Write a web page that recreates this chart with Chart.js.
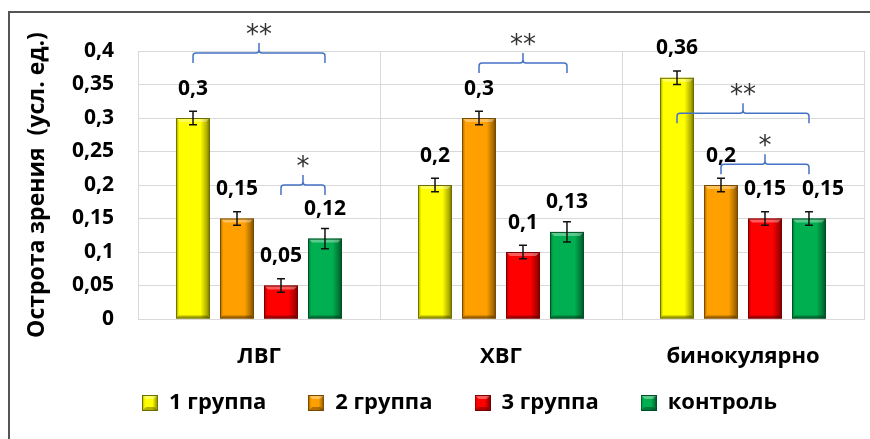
<!DOCTYPE html>
<html>
<head>
<meta charset="utf-8">
<script src="https://cdn.jsdelivr.net/npm/chart.js@4/dist/chart.umd.min.js"></script>
<style>
  html, body { margin: 0; padding: 0; background: #fff; overflow: hidden; }
  #frame { position: absolute; left: 8px; top: 11px; width: 900px; height: 500px; border: 2px solid #555; }
  #wrap { position: absolute; left: 0; top: 0; width: 870px; height: 439px; }
</style>
</head>
<body>
<div id="frame"></div>
<div id="wrap"><canvas id="chart" width="870" height="439"></canvas></div>
<script>
// Visual acuity by group, with standard errors
const categories = ['ЛВГ', 'ХВГ', 'бинокулярно'];
const seriesNames = ['1 группа', '2 группа', '3 группа', 'контроль'];

const group1 = [0.30, 0.20, 0.36];
const group2 = [0.15, 0.30, 0.20];
const group3 = [0.05, 0.10, 0.15];
const control = [0.12, 0.13, 0.15];

const group1Err = [0.01, 0.01, 0.01];
const group2Err = [0.01, 0.01, 0.01];
const group3Err = [0.01, 0.01, 0.01];
const controlErr = [0.015, 0.015, 0.01];

const yAxisTitle = 'Острота зрения  (усл. ед.)';

// Significance brackets: category, first and last series joined, level (axis units), mark
const bracketCategory = [0, 0, 1, 2, 2];
const bracketFrom = [0, 2, 1, 0, 1];
const bracketTo = [3, 3, 3, 3, 3];
const bracketLevel = [0.397, 0.200, 0.382, 0.307, 0.231];
const bracketMark = ['**', '*', '**', '**', '*'];

const seriesValues = [group1, group2, group3, control];
const seriesErrors = [group1Err, group2Err, group3Err, controlErr];
const fills = ['#FFFF00', '#FFA000', '#FF0000', '#00B050'];
const edges = ['#6E6E00', '#7A4A00', '#780000', '#004F24'];

// sideways nudge for a label that would otherwise touch its neighbour
const labelNudge = { '3-2': 14 };

const FONT = "'Open Sans', 'Noto Sans', sans-serif";
const fmt = v => String(Math.round(v * 100) / 100).replace('.', ',');

function swatch(fill, edge) {
  const c = document.createElement('canvas');
  c.width = 16; c.height = 16;
  const g = c.getContext('2d');
  g.fillStyle = fill; g.fillRect(0, 0, 16, 16);
  const gr = g.createLinearGradient(0, 0, 16, 0);
  gr.addColorStop(0, 'rgba(0,0,0,0.2)');
  gr.addColorStop(0.2, 'rgba(0,0,0,0)');
  gr.addColorStop(0.65, 'rgba(0,0,0,0)');
  gr.addColorStop(1, 'rgba(0,0,0,0.5)');
  g.fillStyle = gr; g.fillRect(0, 0, 16, 16);
  g.beginPath(); g.moveTo(0, 0); g.lineTo(16, 0); g.lineTo(12, 4); g.lineTo(4, 4); g.closePath();
  g.fillStyle = 'rgba(255,255,255,0.35)'; g.fill();
  g.beginPath(); g.moveTo(0, 16); g.lineTo(16, 16); g.lineTo(12, 12); g.lineTo(4, 12); g.closePath();
  g.fillStyle = 'rgba(0,0,0,0.3)'; g.fill();
  g.strokeStyle = edge; g.lineWidth = 1; g.strokeRect(0.5, 0.5, 15, 15);
  return c;
}
const swatches = fills.map((f, i) => swatch(f, edges[i]));

function drawBracket(ctx, x1, x2, yh) {
  const drop = 10, tick = 10, r = 3, xm = (x1 + x2) / 2;
  ctx.beginPath();
  ctx.moveTo(x1, yh + drop);
  ctx.lineTo(x1, yh + r);
  ctx.quadraticCurveTo(x1, yh, x1 + r, yh);
  ctx.lineTo(xm - r, yh);
  ctx.quadraticCurveTo(xm, yh, xm, yh - r);
  ctx.lineTo(xm, yh - tick);
  ctx.moveTo(xm, yh - r);
  ctx.quadraticCurveTo(xm, yh, xm + r, yh);
  ctx.lineTo(x2 - r, yh);
  ctx.quadraticCurveTo(x2, yh, x2, yh + r);
  ctx.lineTo(x2, yh + drop);
  ctx.stroke();
  return yh - tick;
}

const decorations = {
  id: 'decorations',
  afterLayout(chart) {
    // legend row sits centred under the figure, just below the category names
    const lg = chart.legend;
    lg.left = 55; lg.right = 864;
    lg.top = 350; lg.bottom = 424;
  },
  afterDatasetsDraw(chart) {
    const ctx = chart.ctx;
    const y = chart.scales.y;
    ctx.save();
    // bevelled bar shading
    chart.data.datasets.forEach((ds, di) => {
      chart.getDatasetMeta(di).data.forEach(el => {
        const p = el.getProps(['x', 'y', 'base', 'width'], true);
        const l = p.x - p.width / 2, r = p.x + p.width / 2;
        const t = Math.min(p.y, p.base), b = Math.max(p.y, p.base), w = p.width;
        const g = ctx.createLinearGradient(l, 0, r, 0);
        g.addColorStop(0, 'rgba(0,0,0,0.3)');
        g.addColorStop(0.1, 'rgba(0,0,0,0)');
        g.addColorStop(0.72, 'rgba(0,0,0,0)');
        g.addColorStop(0.9, 'rgba(0,0,0,0.3)');
        g.addColorStop(1, 'rgba(0,0,0,0.55)');
        ctx.fillStyle = g; ctx.fillRect(l, t, w, b - t);
        ctx.beginPath(); ctx.moveTo(l, t); ctx.lineTo(r, t); ctx.lineTo(r - 4, t + 4); ctx.lineTo(l + 4, t + 4); ctx.closePath();
        ctx.fillStyle = 'rgba(255,255,255,0.35)'; ctx.fill();
        ctx.beginPath(); ctx.moveTo(l, b); ctx.lineTo(r, b); ctx.lineTo(r - 3, b - 3); ctx.lineTo(l + 3, b - 3); ctx.closePath();
        ctx.fillStyle = 'rgba(0,0,0,0.3)'; ctx.fill();
        ctx.strokeStyle = edges[di]; ctx.lineWidth = 1;
        ctx.strokeRect(l + 0.5, t + 0.5, w - 1, b - t - 1);
      });
    });
    // error bars
    ctx.strokeStyle = '#111'; ctx.lineWidth = 1.5;
    chart.data.datasets.forEach((ds, di) => {
      chart.getDatasetMeta(di).data.forEach((el, i) => {
        const v = seriesValues[di][i], e = seriesErrors[di][i];
        const x = el.getProps(['x'], true).x;
        const yt = y.getPixelForValue(v + e), yb = y.getPixelForValue(v - e);
        ctx.beginPath();
        ctx.moveTo(x, yt); ctx.lineTo(x, yb);
        ctx.moveTo(x - 4, yt); ctx.lineTo(x + 4, yt);
        ctx.moveTo(x - 4, yb); ctx.lineTo(x + 4, yb);
        ctx.stroke();
      });
    });
    // value labels
    ctx.font = "bold 21px " + FONT;
    ctx.fillStyle = '#000';
    ctx.textAlign = 'center';
    ctx.textBaseline = 'alphabetic';
    const cap = ctx.measureText('0').actualBoundingBoxAscent;
    chart.data.datasets.forEach((ds, di) => {
      chart.getDatasetMeta(di).data.forEach((el, i) => {
        const p = el.getProps(['x', 'y'], true);
        const dx = labelNudge[di + '-' + i] || 0;
        ctx.fillText(fmt(seriesValues[di][i]), p.x + dx, p.y - 31 + cap / 2);
      });
    });
    // significance brackets
    ctx.strokeStyle = '#4472C4'; ctx.lineWidth = 1.5;
    const meta = i => chart.getDatasetMeta(i).data;
    bracketMark.forEach((mark, k) => {
      const c = bracketCategory[k];
      const x1 = meta(bracketFrom[k])[c].getProps(['x'], true).x;
      const x2 = meta(bracketTo[k])[c].getProps(['x'], true).x;
      const top = drawBracket(ctx, x1, x2, y.getPixelForValue(bracketLevel[k]));
      ctx.font = "26px 'DejaVu Sans', sans-serif";
      ctx.fillStyle = '#333';
      const m = ctx.measureText(mark);
      const cy = top - 14;
      ctx.fillText(mark, (x1 + x2) / 2, cy + (m.actualBoundingBoxAscent - m.actualBoundingBoxDescent) / 2);
    });
    ctx.restore();
  }
};

Chart.defaults.font.family = FONT;
Chart.defaults.color = '#000';

new Chart(document.getElementById('chart'), {
  type: 'bar',
  data: {
    labels: categories,
    datasets: seriesNames.map((name, i) => ({
      label: name,
      data: seriesValues[i],
      backgroundColor: fills[i],
      borderColor: edges[i],
      borderWidth: 0,
      borderSkipped: false,
      categoryPercentage: 0.727,
      barPercentage: 0.77
    }))
  },
  options: {
    responsive: false,
    animation: false,
    events: [],
    layout: { padding: { left: 10, right: 6, top: 51, bottom: 20 } },
    scales: {
      x: {
        grid: { color: '#D9D9D9', drawTicks: false },
        border: { color: '#D9D9D9' },
        ticks: { font: { size: 22, weight: 'bold' }, padding: 25, color: '#000' },
        afterFit(axis) { axis.height = 60; }
      },
      y: {
        min: 0, max: 0.4,
        grid: { color: '#D9D9D9', drawTicks: false },
        border: { color: '#D9D9D9' },
        ticks: { stepSize: 0.05, font: { size: 21, weight: 'bold' }, padding: 24, color: '#000',
                 callback: v => fmt(v) },
        title: { display: true, text: yAxisTitle, font: { size: 23, weight: 'bold' }, color: '#000',
                 padding: { top: 14, bottom: 0 } },
        afterFit(axis) { axis.width = 128; }
      }
    },
    plugins: {
      tooltip: { enabled: false },
      legend: {
        position: 'bottom',
        maxHeight: 40,
        labels: {
          usePointStyle: true,
          boxWidth: 16, boxHeight: 16,
          padding: 42,
          font: { size: 22, weight: 'bold' },
          color: '#000',
          generateLabels: () => seriesNames.map((n, i) => ({
            text: n, pointStyle: swatches[i], fillStyle: fills[i], strokeStyle: edges[i],
            lineWidth: 0, hidden: false, datasetIndex: i
          }))
        }
      }
    }
  },
  plugins: [decorations]
});
</script>
</body>
</html>
